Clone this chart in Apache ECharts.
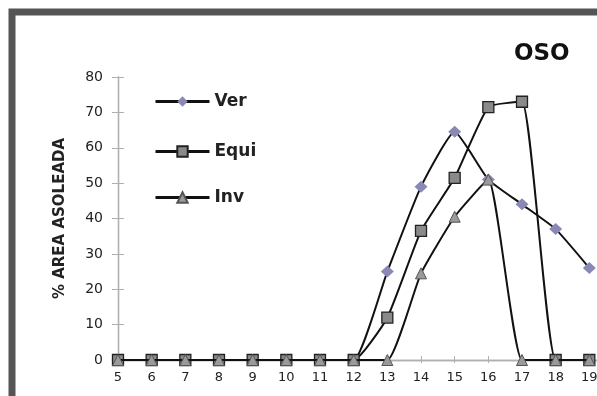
<!DOCTYPE html>
<html>
<head>
<meta charset="utf-8">
<script src="https://cdn.jsdelivr.net/npm/echarts@6/dist/echarts.min.js"></script>
<style>
  html, body { margin: 0; padding: 0; background: #fff; }
  #chart { width: 597px; height: 396px; }
</style>
</head>
<body>
<div id="chart"></div>
<script>
// 数据：时间 5..19 时，各季节阳光面积百分比
const hours = [5, 6, 7, 8, 9, 10, 11, 12, 13, 14, 15, 16, 17, 18, 19];
const ver  = [0, 0, 0, 0, 0, 0, 0, 0, 25, 49, 64.5, 51, 44, 37, 26];
const equi = [0, 0, 0, 0, 0, 0, 0, 0, 12, 36.5, 51.5, 71.5, 73, 0, 0];
const inv  = [0, 0, 0, 0, 0, 0, 0, 0, 0, 24.5, 40.5, 51, 0, 0, 0];
const yTicks = [0, 10, 20, 30, 40, 50, 60, 70, 80];

const chart = echarts.init(document.getElementById('chart'));

const pair = arr => hours.map((h, i) => [h, arr[i]]);
const font = '"DejaVu Sans", Arial, sans-serif';
const axisGray = '#b0b0b0';

// 两条重叠的轴：一条外刻度、一条内刻度，做出十字刻度
const yBase = {
    type: 'value',
    min: yTicks[0],
    max: yTicks[yTicks.length - 1],
    interval: 10,
    position: 'left',
    splitLine: { show: false },
    axisLine: { show: true, lineStyle: { color: axisGray, width: 1.3 } }
};
const xBase = {
    type: 'value',
    min: 5,
    max: 20,
    interval: 1,
    position: 'bottom',
    splitLine: { show: false },
    axisLine: { show: true, lineStyle: { color: axisGray, width: 1.3 } }
};

const legendText = { fontFamily: font, fontSize: 17, fontWeight: 'bold', color: '#222' };
const makeLegend = (name, top) => ({
    data: [name],
    left: 154,
    top: top,
    padding: 0,
    itemWidth: 54,
    itemHeight: 13,
    itemGap: 0,
    textStyle: legendText,
    lineStyle: { width: 3 },
    selectedMode: false
});

chart.setOption({
    backgroundColor: '#fff',
    animation: false,
    title: {
        text: 'OSO',
        left: 514,
        top: 43,
        padding: 0,
        textStyle: { fontFamily: font, fontSize: 23, fontWeight: 'bold', color: '#111' }
    },
    legend: [
        makeLegend('Ver', 93),
        makeLegend('Equi', 143),
        makeLegend('Inv', 189)
    ],
    grid: { left: 118, top: 77, width: 505, height: 283, outerBoundsMode: 'none' },
    xAxis: [
        Object.assign({}, xBase, {
            axisTick: { show: true, length: 3, lineStyle: { color: axisGray } },
            axisLabel: { fontFamily: font, fontSize: 13, color: '#222', margin: 11 }
        }),
        Object.assign({}, xBase, {
            axisTick: { show: true, inside: true, length: 4, lineStyle: { color: axisGray } },
            axisLabel: { show: false }
        })
    ],
    yAxis: [
        Object.assign({}, yBase, {
            name: '% AREA ASOLEADA',
            nameLocation: 'middle',
            nameGap: 50,
            nameTextStyle: { fontFamily: font, fontSize: 15, fontWeight: 'bold', color: '#222' },
            axisTick: { show: true, length: 6, lineStyle: { color: axisGray } },
            axisLabel: { fontFamily: font, fontSize: 14, color: '#222', margin: 15 }
        }),
        Object.assign({}, yBase, {
            axisTick: { show: true, inside: true, length: 6, lineStyle: { color: axisGray } },
            axisLabel: { show: false }
        })
    ],
    series: [
        {
            name: 'Ver',
            type: 'line',
            data: pair(ver),
            smooth: 0.15,
            symbol: 'diamond',
            symbolSize: [13, 12],
            lineStyle: { color: '#111', width: 2 },
            itemStyle: { color: '#8a88b4', borderWidth: 0 },
            z: 2
        },
        {
            name: 'Equi',
            type: 'line',
            data: pair(equi),
            smooth: 0.15,
            symbol: 'rect',
            symbolSize: 11,
            lineStyle: { color: '#111', width: 2 },
            itemStyle: { color: '#8a8a8a', borderColor: '#222', borderWidth: 1.3 },
            z: 3
        },
        {
            name: 'Inv',
            type: 'line',
            data: pair(inv),
            smooth: 0.15,
            symbol: 'triangle',
            symbolSize: 11,
            lineStyle: { color: '#111', width: 2 },
            itemStyle: { color: '#9a9a9a', borderColor: '#555', borderWidth: 1 },
            z: 4
        }
    ],
    graphic: [{
        type: 'rect',
        shape: { x: 12, y: 12, width: 700, height: 500 },
        style: { fill: 'none', stroke: '#555', lineWidth: 7 },
        silent: true,
        z: 100
    }]
});
</script>
</body>
</html>
